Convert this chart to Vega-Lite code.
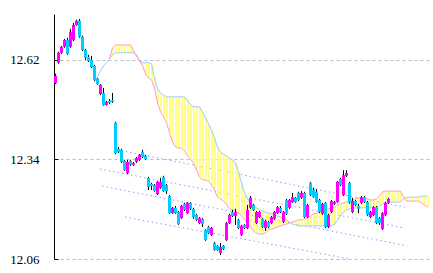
{
  "$schema": "https://vega.github.io/schema/vega-lite/v6.json",
  "width": 376,
  "height": 245,
  "autosize": {"type": "none"},
  "padding": {"left": 54, "top": 14, "right": 3, "bottom": 14},
  "background": "#ffffff",
  "config": {"view": {"stroke": null}},
  "datasets": {
    "trend": [
      {"line": "a", "t": 20.5, "p": 12.367}, {"line": "a", "t": 116.5, "p": 12.206},
      {"line": "b", "t": 14.8, "p": 12.313}, {"line": "b", "t": 116.5, "p": 12.147},
      {"line": "c", "t": 15.5, "p": 12.265}, {"line": "c", "t": 117.2, "p": 12.097},
      {"line": "d", "t": 23.2, "p": 12.178}, {"line": "d", "t": 98.2, "p": 12.06}
    ],
    "cloud": [
      {"t": 13, "a": 12.555, "b": null}, {"t": 14, "a": 12.572, "b": null}, {"t": 15, "a": 12.589, "b": null},
      {"t": 16, "a": 12.603, "b": null}, {"t": 17, "a": 12.612, "b": null},
      {"t": 18, "a": 12.623, "b": 12.623}, {"t": 19, "a": 12.634, "b": 12.654}, {"t": 20, "a": 12.640, "b": 12.662},
      {"t": 21, "a": 12.640, "b": 12.662}, {"t": 22, "a": 12.640, "b": 12.662}, {"t": 23, "a": 12.640, "b": 12.662},
      {"t": 24, "a": 12.640, "b": 12.662}, {"t": 25, "a": 12.640, "b": 12.662}, {"t": 26, "a": 12.640, "b": 12.645},
      {"t": 27, "a": 12.634, "b": 12.631}, {"t": 28, "a": 12.617, "b": 12.617}, {"t": 29, "a": 12.612, "b": 12.603},
      {"t": 30, "a": 12.612, "b": 12.581}, {"t": 31, "a": 12.612, "b": 12.569}, {"t": 32, "a": 12.609, "b": 12.564},
      {"t": 33, "a": 12.569, "b": 12.541}, {"t": 34, "a": 12.538, "b": 12.499}, {"t": 35, "a": 12.527, "b": 12.474},
      {"t": 36, "a": 12.521, "b": 12.460}, {"t": 37, "a": 12.516, "b": 12.443}, {"t": 38, "a": 12.516, "b": 12.415},
      {"t": 39, "a": 12.516, "b": 12.389}, {"t": 40, "a": 12.516, "b": 12.375}, {"t": 41, "a": 12.516, "b": 12.372},
      {"t": 42, "a": 12.516, "b": 12.372}, {"t": 43, "a": 12.516, "b": 12.364}, {"t": 44, "a": 12.507, "b": 12.350},
      {"t": 45, "a": 12.493, "b": 12.341}, {"t": 46, "a": 12.488, "b": 12.330}, {"t": 47, "a": 12.488, "b": 12.310},
      {"t": 48, "a": 12.488, "b": 12.291}, {"t": 49, "a": 12.474, "b": 12.282}, {"t": 50, "a": 12.457, "b": 12.282},
      {"t": 51, "a": 12.440, "b": 12.279}, {"t": 52, "a": 12.423, "b": 12.268}, {"t": 53, "a": 12.400, "b": 12.254},
      {"t": 54, "a": 12.375, "b": 12.234}, {"t": 55, "a": 12.361, "b": 12.229}, {"t": 56, "a": 12.355, "b": 12.223},
      {"t": 57, "a": 12.350, "b": 12.215}, {"t": 58, "a": 12.344, "b": 12.201}, {"t": 59, "a": 12.339, "b": 12.198},
      {"t": 60, "a": 12.330, "b": 12.195}, {"t": 61, "a": 12.305, "b": 12.189}, {"t": 62, "a": 12.274, "b": 12.181},
      {"t": 63, "a": 12.246, "b": 12.173}, {"t": 64, "a": 12.229, "b": 12.161}, {"t": 65, "a": 12.218, "b": 12.150},
      {"t": 66, "a": 12.209, "b": 12.139}, {"t": 67, "a": 12.204, "b": 12.133}, {"t": 68, "a": 12.198, "b": 12.130},
      {"t": 69, "a": 12.195, "b": 12.130}, {"t": 70, "a": 12.192, "b": 12.133}, {"t": 71, "a": 12.189, "b": 12.142},
      {"t": 72, "a": 12.187, "b": 12.144}, {"t": 73, "a": 12.184, "b": 12.147}, {"t": 74, "a": 12.181, "b": 12.150},
      {"t": 75, "a": 12.178, "b": 12.153}, {"t": 76, "a": 12.175, "b": 12.156}, {"t": 77, "a": 12.170, "b": 12.158},
      {"t": 78, "a": 12.164, "b": 12.161}, {"t": 79, "a": 12.158, "b": 12.164}, {"t": 80, "a": 12.156, "b": 12.167},
      {"t": 81, "a": 12.153, "b": 12.170}, {"t": 82, "a": 12.153, "b": 12.170}, {"t": 83, "a": 12.153, "b": 12.173},
      {"t": 84, "a": 12.153, "b": 12.175}, {"t": 85, "a": 12.153, "b": 12.181}, {"t": 86, "a": 12.153, "b": 12.187},
      {"t": 87, "a": 12.153, "b": 12.189}, {"t": 88, "a": 12.153, "b": 12.192}, {"t": 89, "a": 12.153, "b": 12.195},
      {"t": 90, "a": 12.153, "b": 12.198}, {"t": 91, "a": 12.153, "b": 12.201}, {"t": 92, "a": 12.153, "b": 12.204},
      {"t": 93, "a": 12.158, "b": 12.206}, {"t": 94, "a": 12.170, "b": 12.212}, {"t": 95, "a": 12.181, "b": 12.215},
      {"t": 96, "a": 12.192, "b": 12.218}, {"t": 97, "a": 12.198, "b": 12.220}, {"t": 98, "a": 12.201, "b": 12.223},
      {"t": 99, "a": 12.204, "b": 12.226}, {"t": 100, "a": 12.204, "b": 12.229}, {"t": 101, "a": 12.204, "b": 12.232},
      {"t": 102, "a": 12.204, "b": 12.232}, {"t": 103, "a": 12.204, "b": 12.232}, {"t": 104, "a": 12.204, "b": 12.229},
      {"t": 105, "a": 12.204, "b": 12.226}, {"t": 106, "a": 12.204, "b": 12.226}, {"t": 107, "a": 12.204, "b": 12.229},
      {"t": 108, "a": 12.209, "b": 12.237}, {"t": 109, "a": 12.215, "b": 12.249}, {"t": 110, "a": 12.220, "b": 12.251},
      {"t": 111, "a": 12.220, "b": 12.251}, {"t": 112, "a": 12.220, "b": 12.251}, {"t": 113, "a": 12.220, "b": 12.251},
      {"t": 114, "a": 12.220, "b": 12.251}, {"t": 115, "a": 12.220, "b": 12.251}, {"t": 116, "a": 12.229, "b": 12.234},
      {"t": 117, "a": 12.234, "b": 12.223}, {"t": 118, "a": 12.234, "b": 12.223}, {"t": 119, "a": 12.234, "b": 12.223},
      {"t": 120, "a": 12.234, "b": 12.223}, {"t": 121, "a": 12.234, "b": 12.223}, {"t": 122, "a": 12.237, "b": 12.218},
      {"t": 123, "a": 12.237, "b": 12.212}, {"t": 124, "a": 12.237, "b": 12.206}
    ],
    "candles": [
      {"t": 0, "o": 12.555, "h": 12.581, "l": 12.552, "c": 12.575},
      {"t": 1, "o": 12.612, "h": 12.643, "l": 12.609, "c": 12.640},
      {"t": 2, "o": 12.640, "h": 12.659, "l": 12.637, "c": 12.657},
      {"t": 3, "o": 12.657, "h": 12.679, "l": 12.654, "c": 12.676},
      {"t": 4, "o": 12.676, "h": 12.682, "l": 12.634, "c": 12.637},
      {"t": 5, "o": 12.657, "h": 12.707, "l": 12.654, "c": 12.699},
      {"t": 6, "o": 12.676, "h": 12.724, "l": 12.673, "c": 12.718},
      {"t": 7, "o": 12.718, "h": 12.733, "l": 12.716, "c": 12.730},
      {"t": 8, "o": 12.730, "h": 12.735, "l": 12.682, "c": 12.685},
      {"t": 9, "o": 12.685, "h": 12.688, "l": 12.645, "c": 12.648},
      {"t": 10, "o": 12.648, "h": 12.651, "l": 12.620, "c": 12.626},
      {"t": 11, "o": 12.628, "h": 12.634, "l": 12.614, "c": 12.617},
      {"t": 12, "o": 12.620, "h": 12.631, "l": 12.597, "c": 12.600},
      {"t": 13, "o": 12.603, "h": 12.606, "l": 12.561, "c": 12.564},
      {"t": 14, "o": 12.567, "h": 12.569, "l": 12.550, "c": 12.552},
      {"t": 15, "o": 12.524, "h": 12.552, "l": 12.521, "c": 12.550},
      {"t": 16, "o": 12.527, "h": 12.541, "l": 12.491, "c": 12.493},
      {"t": 17, "o": 12.493, "h": 12.505, "l": 12.491, "c": 12.502},
      {"t": 18, "o": 12.505, "h": 12.510, "l": 12.496, "c": 12.499},
      {"t": 19, "o": 12.507, "h": 12.527, "l": 12.499, "c": 12.502},
      {"t": 20, "o": 12.443, "h": 12.446, "l": 12.355, "c": 12.358},
      {"t": 21, "o": 12.370, "h": 12.375, "l": 12.358, "c": 12.361},
      {"t": 22, "o": 12.367, "h": 12.370, "l": 12.330, "c": 12.333},
      {"t": 23, "o": 12.336, "h": 12.339, "l": 12.308, "c": 12.310},
      {"t": 24, "o": 12.302, "h": 12.339, "l": 12.299, "c": 12.333},
      {"t": 25, "o": 12.336, "h": 12.339, "l": 12.322, "c": 12.325},
      {"t": 26, "o": 12.325, "h": 12.333, "l": 12.322, "c": 12.330},
      {"t": 27, "o": 12.333, "h": 12.347, "l": 12.330, "c": 12.344},
      {"t": 28, "o": 12.339, "h": 12.355, "l": 12.336, "c": 12.353},
      {"t": 29, "o": 12.361, "h": 12.367, "l": 12.344, "c": 12.347},
      {"t": 30, "o": 12.350, "h": 12.353, "l": 12.339, "c": 12.341},
      {"t": 31, "o": 12.288, "h": 12.291, "l": 12.254, "c": 12.263},
      {"t": 32, "o": 12.271, "h": 12.274, "l": 12.254, "c": 12.265},
      {"t": 33, "o": 12.268, "h": 12.271, "l": 12.249, "c": 12.251},
      {"t": 34, "o": 12.243, "h": 12.279, "l": 12.240, "c": 12.277},
      {"t": 35, "o": 12.260, "h": 12.288, "l": 12.257, "c": 12.277},
      {"t": 36, "o": 12.291, "h": 12.294, "l": 12.249, "c": 12.251},
      {"t": 37, "o": 12.268, "h": 12.271, "l": 12.243, "c": 12.251},
      {"t": 38, "o": 12.237, "h": 12.240, "l": 12.187, "c": 12.189},
      {"t": 39, "o": 12.189, "h": 12.206, "l": 12.187, "c": 12.204},
      {"t": 40, "o": 12.204, "h": 12.209, "l": 12.187, "c": 12.189},
      {"t": 41, "o": 12.192, "h": 12.195, "l": 12.156, "c": 12.158},
      {"t": 42, "o": 12.175, "h": 12.212, "l": 12.173, "c": 12.209},
      {"t": 43, "o": 12.215, "h": 12.218, "l": 12.195, "c": 12.198},
      {"t": 44, "o": 12.189, "h": 12.220, "l": 12.187, "c": 12.218},
      {"t": 45, "o": 12.218, "h": 12.220, "l": 12.198, "c": 12.201},
      {"t": 46, "o": 12.201, "h": 12.204, "l": 12.173, "c": 12.178},
      {"t": 47, "o": 12.184, "h": 12.187, "l": 12.167, "c": 12.170},
      {"t": 48, "o": 12.161, "h": 12.178, "l": 12.158, "c": 12.175},
      {"t": 49, "o": 12.173, "h": 12.175, "l": 12.150, "c": 12.158},
      {"t": 50, "o": 12.142, "h": 12.144, "l": 12.111, "c": 12.113},
      {"t": 51, "o": 12.150, "h": 12.153, "l": 12.130, "c": 12.133},
      {"t": 52, "o": 12.128, "h": 12.150, "l": 12.125, "c": 12.147},
      {"t": 53, "o": 12.105, "h": 12.108, "l": 12.083, "c": 12.085},
      {"t": 54, "o": 12.097, "h": 12.099, "l": 12.083, "c": 12.085},
      {"t": 55, "o": 12.077, "h": 12.105, "l": 12.071, "c": 12.094},
      {"t": 56, "o": 12.097, "h": 12.099, "l": 12.085, "c": 12.088},
      {"t": 57, "o": 12.113, "h": 12.164, "l": 12.111, "c": 12.161},
      {"t": 58, "o": 12.161, "h": 12.187, "l": 12.158, "c": 12.184},
      {"t": 59, "o": 12.192, "h": 12.198, "l": 12.178, "c": 12.181},
      {"t": 60, "o": 12.181, "h": 12.201, "l": 12.156, "c": 12.192},
      {"t": 61, "o": 12.170, "h": 12.173, "l": 12.144, "c": 12.147},
      {"t": 62, "o": 12.128, "h": 12.156, "l": 12.125, "c": 12.153},
      {"t": 63, "o": 12.156, "h": 12.158, "l": 12.144, "c": 12.147},
      {"t": 64, "o": 12.147, "h": 12.212, "l": 12.144, "c": 12.198},
      {"t": 65, "o": 12.204, "h": 12.237, "l": 12.201, "c": 12.232},
      {"t": 66, "o": 12.212, "h": 12.215, "l": 12.195, "c": 12.198},
      {"t": 67, "o": 12.161, "h": 12.195, "l": 12.158, "c": 12.192},
      {"t": 68, "o": 12.178, "h": 12.195, "l": 12.175, "c": 12.192},
      {"t": 69, "o": 12.173, "h": 12.175, "l": 12.147, "c": 12.150},
      {"t": 70, "o": 12.147, "h": 12.170, "l": 12.139, "c": 12.167},
      {"t": 71, "o": 12.164, "h": 12.167, "l": 12.147, "c": 12.150},
      {"t": 72, "o": 12.161, "h": 12.181, "l": 12.158, "c": 12.178},
      {"t": 73, "o": 12.173, "h": 12.195, "l": 12.170, "c": 12.192},
      {"t": 74, "o": 12.189, "h": 12.209, "l": 12.187, "c": 12.206},
      {"t": 75, "o": 12.204, "h": 12.209, "l": 12.189, "c": 12.192},
      {"t": 76, "o": 12.164, "h": 12.195, "l": 12.161, "c": 12.192},
      {"t": 77, "o": 12.226, "h": 12.229, "l": 12.184, "c": 12.187},
      {"t": 78, "o": 12.204, "h": 12.229, "l": 12.201, "c": 12.226},
      {"t": 79, "o": 12.220, "h": 12.246, "l": 12.218, "c": 12.234},
      {"t": 80, "o": 12.232, "h": 12.234, "l": 12.218, "c": 12.220},
      {"t": 81, "o": 12.246, "h": 12.249, "l": 12.223, "c": 12.226},
      {"t": 82, "o": 12.232, "h": 12.251, "l": 12.229, "c": 12.246},
      {"t": 83, "o": 12.246, "h": 12.249, "l": 12.175, "c": 12.178},
      {"t": 84, "o": 12.178, "h": 12.215, "l": 12.175, "c": 12.212},
      {"t": 85, "o": 12.274, "h": 12.277, "l": 12.237, "c": 12.240},
      {"t": 86, "o": 12.254, "h": 12.260, "l": 12.232, "c": 12.234},
      {"t": 87, "o": 12.249, "h": 12.257, "l": 12.218, "c": 12.220},
      {"t": 88, "o": 12.226, "h": 12.229, "l": 12.189, "c": 12.192},
      {"t": 89, "o": 12.187, "h": 12.218, "l": 12.184, "c": 12.215},
      {"t": 90, "o": 12.218, "h": 12.220, "l": 12.147, "c": 12.150},
      {"t": 91, "o": 12.150, "h": 12.187, "l": 12.147, "c": 12.184},
      {"t": 92, "o": 12.192, "h": 12.226, "l": 12.189, "c": 12.223},
      {"t": 93, "o": 12.215, "h": 12.223, "l": 12.212, "c": 12.220},
      {"t": 94, "o": 12.220, "h": 12.279, "l": 12.218, "c": 12.277},
      {"t": 95, "o": 12.285, "h": 12.288, "l": 12.265, "c": 12.268},
      {"t": 96, "o": 12.240, "h": 12.310, "l": 12.237, "c": 12.296},
      {"t": 97, "o": 12.294, "h": 12.310, "l": 12.291, "c": 12.302},
      {"t": 98, "o": 12.274, "h": 12.277, "l": 12.215, "c": 12.218},
      {"t": 99, "o": 12.192, "h": 12.232, "l": 12.189, "c": 12.223},
      {"t": 100, "o": 12.223, "h": 12.226, "l": 12.209, "c": 12.212},
      {"t": 101, "o": 12.209, "h": 12.215, "l": 12.189, "c": 12.201},
      {"t": 102, "o": 12.218, "h": 12.237, "l": 12.215, "c": 12.234},
      {"t": 103, "o": 12.234, "h": 12.237, "l": 12.218, "c": 12.220},
      {"t": 104, "o": 12.220, "h": 12.223, "l": 12.181, "c": 12.184},
      {"t": 105, "o": 12.178, "h": 12.195, "l": 12.175, "c": 12.192},
      {"t": 106, "o": 12.184, "h": 12.209, "l": 12.181, "c": 12.206},
      {"t": 107, "o": 12.206, "h": 12.209, "l": 12.158, "c": 12.161},
      {"t": 108, "o": 12.175, "h": 12.178, "l": 12.156, "c": 12.161},
      {"t": 109, "o": 12.144, "h": 12.192, "l": 12.142, "c": 12.189},
      {"t": 110, "o": 12.184, "h": 12.220, "l": 12.181, "c": 12.218},
      {"t": 111, "o": 12.218, "h": 12.232, "l": 12.215, "c": 12.229}
    ]
  },
  "layer": [
    {
      "data": {"name": "trend"},
      "mark": {"type": "line", "stroke": "#9999ff", "strokeWidth": 1, "strokeDash": [1.5, 3]},
      "encoding": {
        "x": {"field": "t", "type": "quantitative", "scale": {"domain": [-0.5, 124.8333], "nice": false, "zero": false, "padding": 0}, "axis": null},
        "y": {
          "field": "p", "type": "quantitative", "title": null,
          "scale": {"domain": [12.06, 12.749], "nice": false, "zero": false, "padding": 0},
          "axis": {
            "title": null, "values": [12.06, 12.34, 12.62], "format": ".2f",
            "grid": true, "gridColor": "#bbbbbb", "gridDash": [3, 3], "gridWidth": 1,
            "domain": true, "domainColor": "#000000", "domainWidth": 1, "domainOpacity": 1,
            "ticks": true, "tickColor": "#000000", "tickSize": -4, "tickWidth": 1, "tickOpacity": 1,
            "labelPadding": 19, "labelFont": "Liberation Sans Narrow", "labelFontSize": 13,
            "labelColor": "#000000", "labelFlush": false, "labelOverlap": false
          }
        },
        "detail": {"field": "line"}
      }
    },
    {
      "data": {"name": "cloud"},
      "transform": [{"filter": "datum.b != null"}],
      "mark": {"type": "rule", "stroke": "#ffff88", "strokeWidth": 2, "xOffset": 0.5},
      "encoding": {
        "x": {"field": "t", "type": "quantitative", "axis": null},
        "y": {"field": "a", "type": "quantitative", "title": null},
        "y2": {"field": "b"}
      }
    },
    {
      "data": {"name": "cloud"},
      "mark": {"type": "line", "stroke": "#99ccff", "strokeWidth": 1},
      "encoding": {
        "x": {"field": "t", "type": "quantitative", "axis": null},
        "y": {"field": "a", "type": "quantitative", "title": null}
      }
    },
    {
      "data": {"name": "cloud"},
      "transform": [{"filter": "datum.b != null"}],
      "mark": {"type": "line", "stroke": "#ff99cc", "strokeWidth": 1},
      "encoding": {
        "x": {"field": "t", "type": "quantitative", "axis": null},
        "y": {"field": "b", "type": "quantitative", "title": null}
      }
    },
    {
      "data": {"name": "candles"},
      "mark": {"type": "rule", "stroke": "#000000", "strokeWidth": 1},
      "encoding": {
        "x": {"field": "t", "type": "quantitative", "axis": null},
        "y": {"field": "h", "type": "quantitative", "title": null},
        "y2": {"field": "l"}
      }
    },
    {
      "data": {"name": "candles"},
      "mark": {"type": "bar", "width": 3},
      "encoding": {
        "x": {"field": "t", "type": "quantitative", "axis": null},
        "y": {"field": "o", "type": "quantitative", "title": null},
        "y2": {"field": "c"},
        "color": {"condition": {"test": "datum.c >= datum.o", "value": "#ff00ff"}, "value": "#00ccff"}
      }
    }
  ]
}
